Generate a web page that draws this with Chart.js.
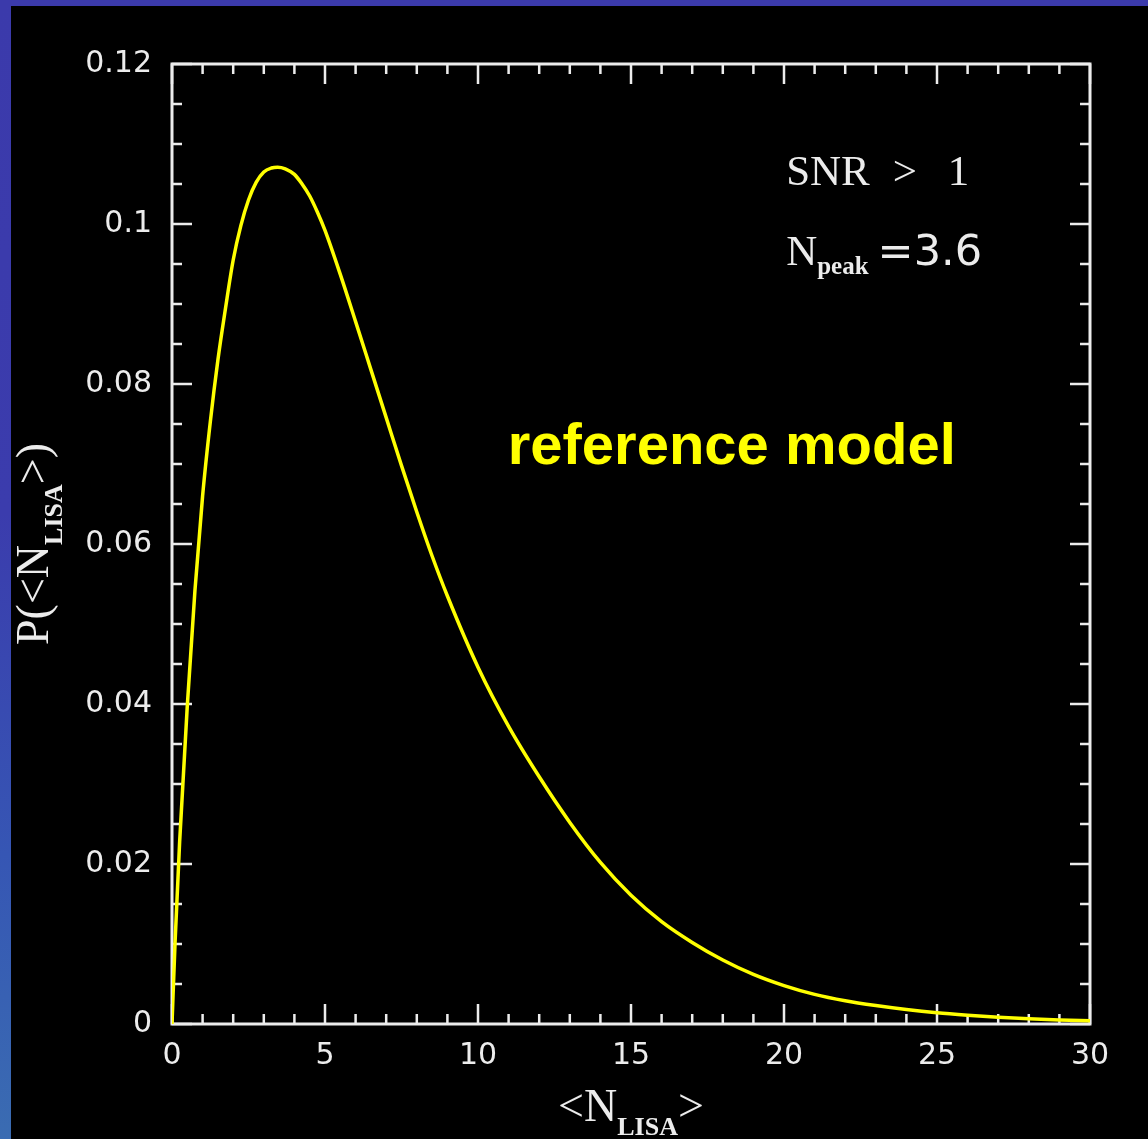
<!DOCTYPE html>
<html>
<head>
<meta charset="utf-8">
<script src="https://cdn.jsdelivr.net/npm/chart.js@4/dist/chart.umd.min.js"></script>
<style>
  html, body { margin:0; padding:0; }
  body { width:1148px; height:1139px; overflow:hidden; position:relative;
         background: linear-gradient(to bottom, #3b3aab 0%, #3b3cad 45%, #3656b4 75%, #3a6cb2 100%); }
  #bg { position:absolute; left:11px; top:6px; right:0; bottom:0; background:#000; }
  #wrap { position:absolute; left:0; top:0; width:1148px; height:1139px; }
</style>
</head>
<body>
<div id="bg"></div>
<div id="wrap"><canvas id="c" width="1148" height="1139"></canvas></div>
<script>
// ---- data ----
const nLisa = [0, 0.1, 0.25, 0.5, 0.75, 1.0, 1.25, 1.5, 1.75, 2.0, 2.25, 2.5, 2.75, 3.0, 3.25, 3.45,
               3.7, 4.0, 4.25, 4.5, 4.75, 5.0, 5.5, 6.0, 6.5, 7.0, 7.5, 8.0, 8.5, 9.0, 10, 11, 12, 13, 14,
               15, 16, 17, 18, 19, 20, 21, 22, 23, 24, 25, 26, 27, 28, 29, 30];
const prob  = [0, 0.0102, 0.0228, 0.0398, 0.0542, 0.0660, 0.0752, 0.0830, 0.0895, 0.0955, 0.0998, 0.1030, 0.1052, 0.1065, 0.1070, 0.1071,
               0.1069, 0.1062, 0.1050, 0.1035, 0.1015, 0.0992, 0.0937, 0.0878, 0.0818, 0.0758, 0.0698, 0.0640, 0.0585, 0.0535, 0.0446, 0.0372, 0.0309, 0.0252, 0.0202,
               0.0161, 0.0128, 0.0102, 0.0080, 0.0062, 0.0048, 0.0037, 0.0029, 0.0023, 0.0018, 0.0014, 0.0011, 0.00085, 0.00065, 0.0005, 0.0004];
const xMajorTicks = [0, 5, 10, 15, 20, 25, 30];
const yMajorTicks = [0, 0.02, 0.04, 0.06, 0.08, 0.1, 0.12];
const annSNR = ['SNR', '>', '1'];
const annPeak = { main: 'N', sub: 'peak', rest: '=3.6' };
const annModel = 'reference model';
const xTitle = { pre: '<N', sub: 'LISA', post: '>' };
const yTitle = { pre: 'P(<N', sub: 'LISA', post: '>)' };

const points = nLisa.map((n, i) => ({ x: n, y: prob[i] }));
const AX = '#ececec';
const SERIF = '"Liberation Serif", "DejaVu Serif", serif';

function isMajorX(v) { return xMajorTicks.some(m => Math.abs(m - v) < 1e-6); }
function isMajorY(v) { return yMajorTicks.some(m => Math.abs(m - v) < 1e-6); }

function drawParts(ctx, parts, cx, base) {
  let total = 0;
  parts.forEach(p => { ctx.font = p.font; p.w = ctx.measureText(p.t).width; total += p.w; });
  let x = cx - total / 2;
  parts.forEach(p => { ctx.font = p.font; ctx.fillText(p.t, x, base + (p.dy || 0)); x += p.w; });
}

const framePlugin = {
  id: 'frameTicks',
  beforeDatasetsDraw(chart) {
    const { ctx, chartArea: { left, right, top, bottom }, scales: { x, y } } = chart;
    ctx.save();
    ctx.strokeStyle = AX;
    ctx.lineWidth = 2.5;
    x.ticks.forEach(t => {
      const px = x.getPixelForValue(t.value);
      const len = isMajorX(t.value) ? 20 : 10;
      ctx.beginPath();
      ctx.moveTo(px, bottom); ctx.lineTo(px, bottom - len);
      ctx.moveTo(px, top); ctx.lineTo(px, top + len);
      ctx.stroke();
    });
    y.ticks.forEach(t => {
      const py = y.getPixelForValue(t.value);
      const len = isMajorY(t.value) ? 20 : 10;
      ctx.beginPath();
      ctx.moveTo(left, py); ctx.lineTo(left + len, py);
      ctx.moveTo(right, py); ctx.lineTo(right - len, py);
      ctx.stroke();
    });
    ctx.lineWidth = 3;
    ctx.strokeRect(left, top, right - left, bottom - top);
    ctx.restore();
  },
  afterDraw(chart) {
    const { ctx, chartArea: { left, right, top, bottom }, scales: { x, y } } = chart;
    ctx.save();
    ctx.fillStyle = AX;
    ctx.textBaseline = 'alphabetic';
    ctx.textAlign = 'left';
    // x title
    drawParts(ctx, [
      { t: xTitle.pre, font: '46px ' + SERIF },
      { t: xTitle.sub, font: 'bold 26px ' + SERIF, dy: 14 },
      { t: xTitle.post, font: '46px ' + SERIF }
    ], (left + right) / 2, 1121);
    // y title
    ctx.save();
    ctx.translate(48, (top + bottom) / 2);
    ctx.rotate(-Math.PI / 2);
    drawParts(ctx, [
      { t: yTitle.pre, font: '46px ' + SERIF },
      { t: yTitle.sub, font: 'bold 26px ' + SERIF, dy: 14 },
      { t: yTitle.post, font: '46px ' + SERIF }
    ], 0, 0);
    ctx.restore();
    // annotations (positioned in data coordinates)
    const ax = x.getPixelForValue(20.07);
    const sy = y.getPixelForValue(0.1049);
    ctx.font = '43px ' + SERIF;
    ctx.fillText(annSNR[0], ax, sy);
    ctx.fillText(annSNR[1], x.getPixelForValue(23.55), sy);
    ctx.fillText(annSNR[2], x.getPixelForValue(25.35), sy);
    const by = y.getPixelForValue(0.0949);
    ctx.font = '43px ' + SERIF;
    ctx.fillText(annPeak.main, ax, by);
    let w = ctx.measureText(annPeak.main).width;
    ctx.font = 'bold 25px ' + SERIF;
    ctx.fillText(annPeak.sub, ax + w, by + 9);
    let w2 = ctx.measureText(annPeak.sub).width;
    ctx.font = '43px "DejaVu Sans", sans-serif';
    ctx.fillText(annPeak.rest, ax + w + w2 + 9, by);
    // reference model
    ctx.fillStyle = '#ffff00';
    ctx.font = 'bold 58px "Liberation Sans", Arial, sans-serif';
    ctx.fillText(annModel, x.getPixelForValue(10.97), y.getPixelForValue(0.07));
    ctx.restore();
  }
};

new Chart(document.getElementById('c'), {
  type: 'scatter',
  data: {
    datasets: [{
      data: points,
      showLine: true,
      borderColor: '#ffff00',
      borderWidth: 3.5,
      pointRadius: 0,
      cubicInterpolationMode: 'monotone',
      fill: false
    }]
  },
  options: {
    responsive: false,
    animation: false,
    devicePixelRatio: 1,
    layout: { padding: { left: 0, right: 58, top: 64, bottom: 0 } },
    plugins: { legend: { display: false }, tooltip: { enabled: false } },
    scales: {
      x: {
        type: 'linear', min: 0, max: 30,
        afterFit: s => { s.height = 115; },
        grid: { display: false, drawTicks: false },
        border: { display: false },
        ticks: {
          stepSize: 1, autoSkip: false, maxRotation: 0, padding: 14,
          color: AX, font: { family: '"DejaVu Sans", sans-serif', size: 30 },
          callback: v => isMajorX(v) ? String(v) : ''
        }
      },
      y: {
        type: 'linear', min: 0, max: 0.12,
        afterFit: s => { s.width = 172; },
        grid: { display: false, drawTicks: false },
        border: { display: false },
        ticks: {
          stepSize: 0.005, autoSkip: false, padding: 20,
          color: AX, font: { family: '"DejaVu Sans", sans-serif', size: 30 },
          callback: v => isMajorY(v) ? String(+v.toFixed(3)) : ''
        }
      }
    }
  },
  plugins: [framePlugin]
});
</script>
</body>
</html>
